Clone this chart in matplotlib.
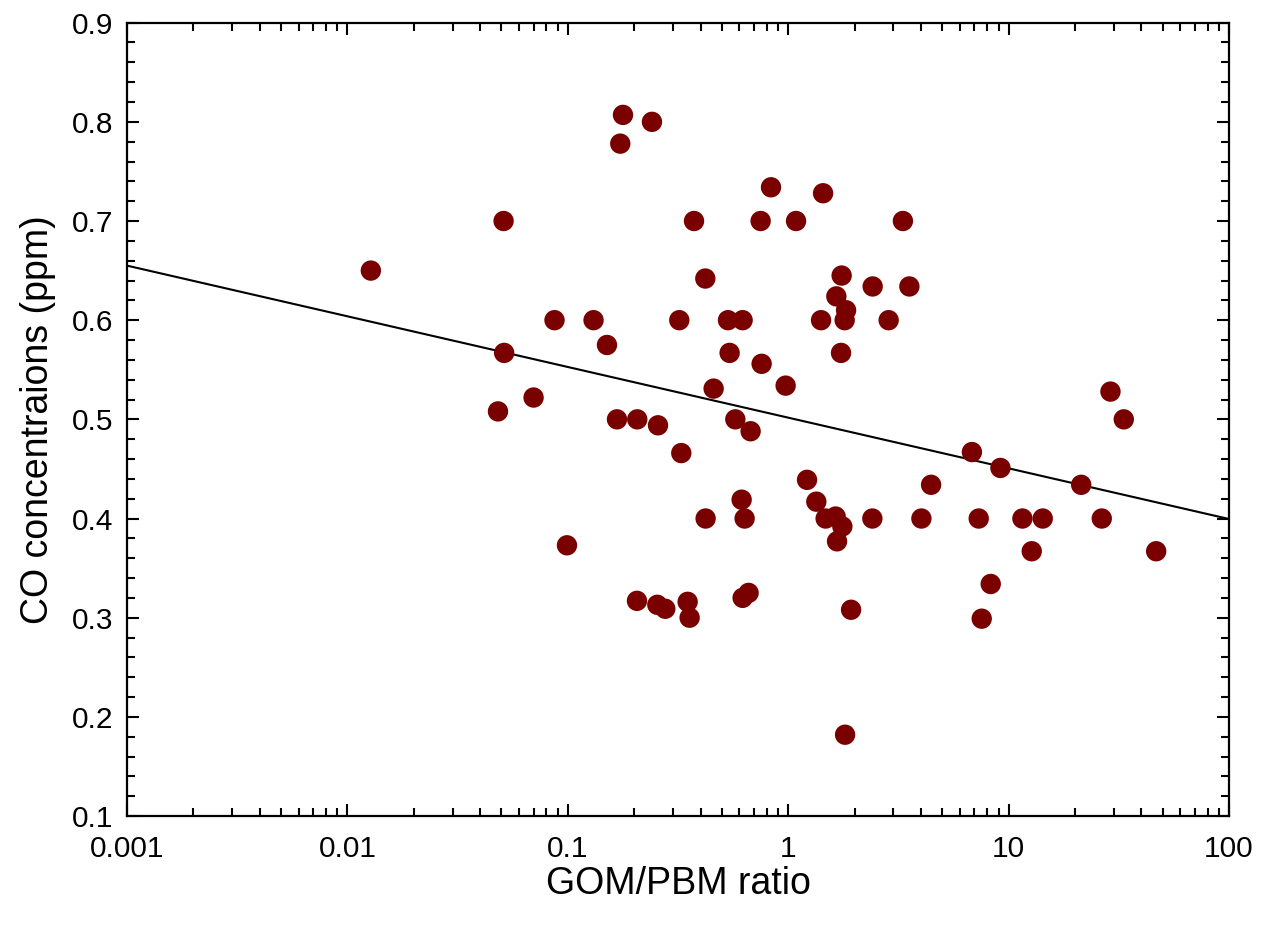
import numpy as np
import matplotlib
matplotlib.use("Agg")
import matplotlib.pyplot as plt
from matplotlib.ticker import LogLocator, FixedLocator, MultipleLocator, FuncFormatter

plt.rcParams['font.family'] = ['Liberation Sans', 'DejaVu Sans']

# GOM/PBM ratio (x, log scale) and CO concentration in ppm (y)
gom_pbm_ratio = [
    0.01277, 0.0511, 0.0514, 0.0482, 0.0699, 0.0870, 0.0991, 0.1308, 0.1505, 0.1671,
    0.1779, 0.1729, 0.2065, 0.2059, 0.2408, 0.2565, 0.2547, 0.2767, 0.3204, 0.3271,
    0.3496, 0.3569, 0.3737, 0.4205, 0.4218, 0.4586, 0.5329, 0.5420, 0.5754, 0.6209,
    0.6145, 0.6340, 0.6209, 0.6609, 0.6749, 0.7495, 0.7573, 0.8353, 0.9732, 1.085,
    1.217, 1.341, 1.409, 1.439, 1.478, 1.641, 1.653, 1.665, 1.736, 1.747,
    1.760, 1.803, 1.830, 1.811, 1.928, 2.408, 2.416, 2.855, 3.313, 3.545,
    4.020, 4.448, 6.814, 7.316, 7.549, 8.293, 9.180, 11.55, 12.73, 14.28,
    21.34, 26.46, 28.98, 33.30, 46.71,
]
co_ppm = [
    0.650, 0.700, 0.567, 0.508, 0.522, 0.600, 0.373, 0.600, 0.575, 0.500,
    0.807, 0.778, 0.500, 0.317, 0.800, 0.494, 0.313, 0.309, 0.600, 0.466,
    0.316, 0.300, 0.700, 0.642, 0.400, 0.531, 0.600, 0.567, 0.500, 0.600,
    0.419, 0.400, 0.320, 0.325, 0.488, 0.700, 0.556, 0.734, 0.534, 0.700,
    0.439, 0.417, 0.600, 0.728, 0.400, 0.402, 0.624, 0.377, 0.567, 0.645,
    0.392, 0.600, 0.610, 0.182, 0.308, 0.400, 0.634, 0.600, 0.700, 0.634,
    0.400, 0.434, 0.467, 0.400, 0.299, 0.334, 0.451, 0.400, 0.367, 0.400,
    0.434, 0.400, 0.528, 0.500, 0.367,
]

# Log-linear regression: CO = intercept + slope * log10(ratio)
fit_intercept = 0.5017
fit_slope = -0.0511

x_ticks = [0.001, 0.01, 0.1, 1, 10, 100]
x_tick_labels = ["0.001", "0.01", "0.1", "1", "10", "100"]
y_ticks = [0.1, 0.2, 0.3, 0.4, 0.5, 0.6, 0.7, 0.8, 0.9]

fig = plt.figure(figsize=(12.63, 9.25), dpi=100)
ax = fig.add_axes([0.1006, 0.1178, 0.8725, 0.8577])

ax.scatter(gom_pbm_ratio, co_ppm, s=215, color='#7a0000', edgecolors='none', zorder=3)

xf = np.logspace(np.log10(x_ticks[0]), np.log10(x_ticks[-1]), 200)
ax.plot(xf, fit_intercept + fit_slope * np.log10(xf), color='black', lw=1.5, zorder=2)

ax.set_xscale('log')
ax.set_xlim(x_ticks[0], x_ticks[-1])
ax.set_ylim(y_ticks[0], y_ticks[-1])

ax.xaxis.set_major_locator(FixedLocator(x_ticks))
ax.set_xticklabels(x_tick_labels)
ax.xaxis.set_minor_locator(LogLocator(base=10, subs=np.arange(2, 10), numticks=20))
ax.xaxis.set_minor_formatter(plt.NullFormatter())

ax.yaxis.set_major_locator(FixedLocator(y_ticks))
ax.yaxis.set_major_formatter(FuncFormatter(lambda v, p: f"{v:.1f}"))
ax.yaxis.set_minor_locator(MultipleLocator(0.02))

ax.tick_params(which='both', direction='in', top=True, right=True, width=1.5,
               labelsize=21.5, colors='black')
ax.tick_params(which='major', length=8.6)
ax.tick_params(which='minor', length=5.8)
ax.tick_params(axis='x', which='major', pad=14)
ax.tick_params(axis='y', which='major', pad=10)

for sp in ax.spines.values():
    sp.set_linewidth(1.6)

ax.set_xlabel("GOM/PBM ratio", fontsize=27, labelpad=2)
ax.set_ylabel("CO concentraions (ppm)", fontsize=27, labelpad=11)

fig.savefig("out.png", dpi=100, facecolor='white')
